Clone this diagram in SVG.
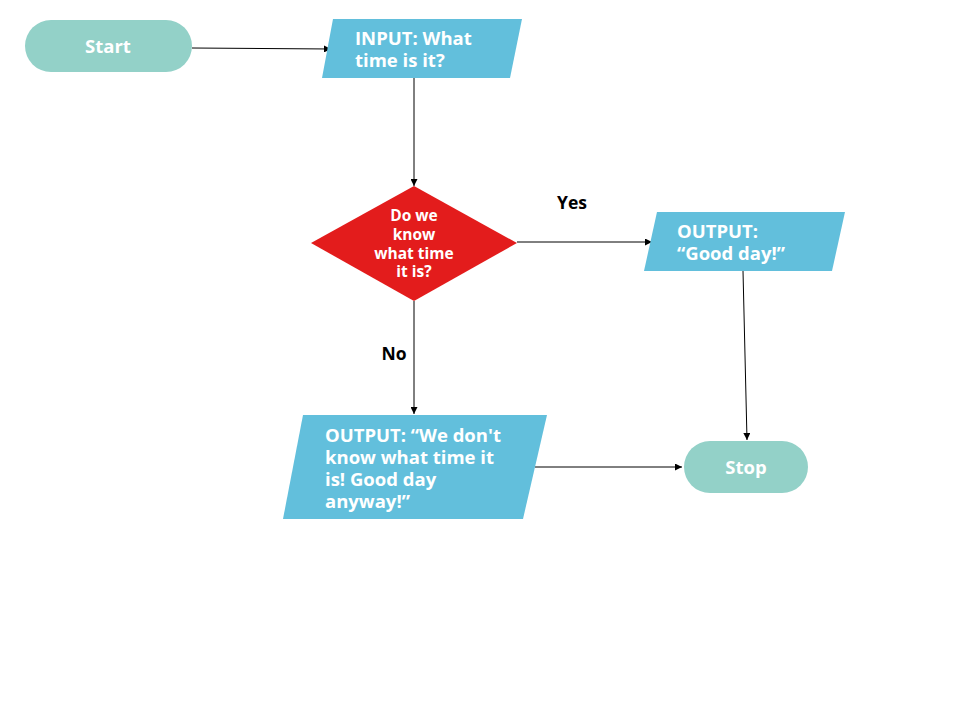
<svg xmlns="http://www.w3.org/2000/svg" width="960" height="720" viewBox="0 0 960 720">
<defs>
<marker id="arr" viewBox="0 0 10 10" refX="10" refY="5" markerWidth="7" markerHeight="7" markerUnits="userSpaceOnUse" orient="auto">
<path d="M0,0 L10,5 L0,10 z" fill="#000"/>
</marker>
<style>
.term{fill:#93d1c8}
.io{fill:#62bfdc}
.dec{fill:#e31c1c}
.t{font-family:"Open Sans","Liberation Sans",sans-serif;font-weight:bold;fill:#fff}
.lbl{font-family:"Open Sans","Liberation Sans",sans-serif;font-weight:bold;fill:#000;font-size:17.5px}
.c{stroke:#000;stroke-width:1;fill:none;marker-end:url(#arr)}
</style>
</defs>
<rect width="960" height="720" fill="#fff"/>
<g id="connectors">
<line class="c" x1="192" y1="48" x2="331" y2="49"/>
<line class="c" x1="414" y1="78" x2="414" y2="186"/>
<line class="c" x1="517" y1="242" x2="652" y2="242"/>
<line class="c" x1="743" y1="271" x2="747" y2="440"/>
<line class="c" x1="414" y1="301" x2="414" y2="414"/>
<line class="c" x1="535" y1="467" x2="682" y2="467"/>
<text class="lbl" x="572" y="209" text-anchor="middle">Yes</text>
<text class="lbl" x="394" y="360" text-anchor="middle">No</text>
</g>
<g id="start">
<rect class="term" x="25" y="20" width="167" height="52" rx="26"/>
<text class="t" x="108" y="53" font-size="18.5" text-anchor="middle">Start</text>
</g>
<g id="input">
<polygon class="io" points="333,19 522,19 510,78 322,78"/>
<text class="t" font-size="18.5"><tspan x="355" y="45">INPUT: What</tspan><tspan x="355" y="67">time is it?</tspan></text>
</g>
<g id="decision">
<polygon class="dec" points="414,186 517,243 414,301 311,243"/>
<text class="t" font-size="15.5" text-anchor="middle"><tspan x="414" y="221">Do we</tspan><tspan x="414" y="240">know</tspan><tspan x="414" y="259">what time</tspan><tspan x="414" y="277">it is?</tspan></text>
</g>
<g id="output-yes">
<polygon class="io" points="657,212 845,212 832,271 644,271"/>
<text class="t" font-size="18.5"><tspan x="677" y="238">OUTPUT:</tspan><tspan x="677" y="260">“Good day!”</tspan></text>
</g>
<g id="output-no">
<polygon class="io" points="303,415 547,415 523,519 283,519"/>
<text class="t" font-size="18.5"><tspan x="325" y="442">OUTPUT: “We don't</tspan><tspan x="325" y="464">know what time it</tspan><tspan x="325" y="486">is! Good day</tspan><tspan x="325" y="508">anyway!”</tspan></text>
</g>
<g id="stop">
<rect class="term" x="684" y="441" width="124" height="52" rx="26"/>
<text class="t" x="746" y="474" font-size="18.5" text-anchor="middle">Stop</text>
</g>
</svg>
